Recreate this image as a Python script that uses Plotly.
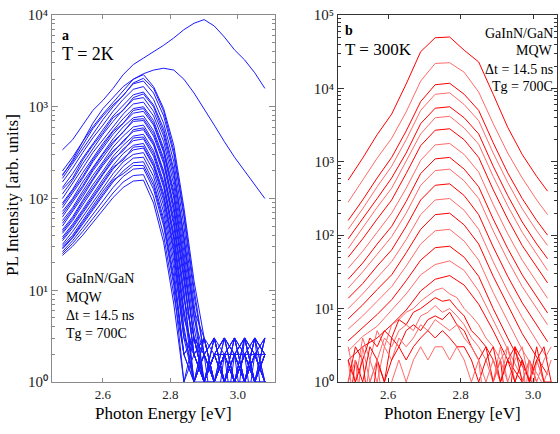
import numpy as np
import plotly.graph_objects as go

W, H = 560, 434

# ---------------- Panel a (T = 2K) : log10(PL intensity) ----------------
a_energy = [2.48, 2.51, 2.54, 2.57, 2.60, 2.63, 2.66, 2.69, 2.72, 2.75, 2.78,
            2.81, 2.84, 2.87, 2.90, 2.93, 2.96, 2.99, 3.02, 3.05, 3.08]

a_top = [2.53, 2.64, 2.80, 2.96, 3.07, 3.20, 3.35, 3.46, 3.53, 3.60, 3.67,
         3.75, 3.84, 3.91, 3.95, 3.88, 3.76, 3.62, 3.51, 3.37, 3.20]
a_second = [2.25, 2.42, 2.62, 2.82, 2.98, 3.10, 3.22, 3.30, 3.36, 3.40, 3.42,
            3.40, 3.30, 3.15, 2.98, 2.80, 2.62, 2.45, 2.30, 2.15, 2.00]

a_b01 = [2.30, 2.45, 2.62, 2.78, 2.92, 3.05, 3.18, 3.30, 3.35, 3.22, 2.98, 2.58, 1.90, 1.10, 0.48, 0.00, 0.30, 0.00, 0.48, 0.00, 0.30]
a_b02 = [2.22, 2.38, 2.55, 2.70, 2.86, 3.00, 3.12, 3.25, 3.28, 3.15, 2.90, 2.48, 1.80, 0.95, 0.30, 0.48, 0.00, 0.30, -0.5, 0.30, 0.00]
a_b03 = [2.18, 2.33, 2.50, 2.66, 2.80, 2.95, 3.08, 3.19, 3.22, 3.08, 2.82, 2.40, 1.70, 0.85, 0.00, 0.30, 0.48, 0.00, 0.30, 0.48, -0.5]
a_b04 = [2.12, 2.27, 2.44, 2.60, 2.75, 2.90, 3.02, 3.13, 3.16, 3.02, 2.76, 2.32, 1.60, 0.78, 0.48, 0.00, 0.30, 0.48, 0.00, 0.30, 0.30]
a_b05 = [2.05, 2.20, 2.38, 2.54, 2.70, 2.84, 2.97, 3.08, 3.10, 2.95, 2.68, 2.22, 1.50, 0.70, 0.30, 0.00, -0.5, 0.30, 0.48, 0.00, 0.48]
a_b06 = [2.00, 2.16, 2.33, 2.50, 2.64, 2.79, 2.92, 3.03, 3.05, 2.90, 2.62, 2.15, 1.42, 0.60, 0.00, 0.48, 0.30, 0.00, 0.30, -0.5, 0.00]
a_b07 = [1.95, 2.10, 2.28, 2.44, 2.60, 2.74, 2.87, 2.98, 3.00, 2.85, 2.55, 2.08, 1.35, 0.48, 0.30, 0.00, 0.48, 0.30, 0.00, 0.30, 0.48]
a_b08 = [1.90, 2.06, 2.22, 2.40, 2.55, 2.70, 2.82, 2.93, 2.95, 2.80, 2.50, 2.00, 1.25, 0.48, 0.00, 0.30, 0.00, 0.48, 0.30, 0.00, 0.30]
a_b09 = [1.86, 2.00, 2.18, 2.34, 2.50, 2.65, 2.78, 2.88, 2.90, 2.74, 2.44, 1.92, 1.18, 0.30, 0.48, 0.00, 0.30, -0.5, 0.48, 0.30, 0.00]
a_b10 = [1.80, 1.96, 2.12, 2.30, 2.45, 2.60, 2.73, 2.84, 2.85, 2.68, 2.38, 1.85, 1.10, 0.30, 0.00, 0.48, 0.00, 0.30, 0.00, 0.48, 0.30]
a_b11 = [1.76, 1.90, 2.08, 2.25, 2.40, 2.56, 2.68, 2.78, 2.80, 2.62, 2.30, 1.78, 1.00, 0.00, 0.30, 0.00, 0.48, 0.30, 0.30, 0.00, -0.5]
a_b12 = [1.70, 1.86, 2.02, 2.20, 2.36, 2.50, 2.63, 2.73, 2.75, 2.58, 2.25, 1.70, 0.90, 0.48, 0.00, 0.30, 0.00, 0.00, 0.48, 0.30, 0.00]
a_b13 = [1.66, 1.80, 1.98, 2.15, 2.30, 2.46, 2.58, 2.68, 2.70, 2.52, 2.18, 1.62, 0.80, 0.00, 0.30, -0.5, 0.30, 0.48, 0.00, 0.30, 0.30]
a_b14 = [1.62, 1.76, 1.93, 2.10, 2.26, 2.41, 2.54, 2.63, 2.65, 2.46, 2.12, 1.55, 0.70, 0.30, 0.48, 0.00, 0.30, 0.00, 0.30, 0.00, 0.48]
a_b15 = [1.58, 1.72, 1.88, 2.05, 2.21, 2.36, 2.49, 2.58, 2.60, 2.40, 2.05, 1.48, 0.60, 0.00, 0.00, 0.30, 0.48, 0.30, 0.00, 0.48, 0.00]
a_b16 = [1.54, 1.68, 1.84, 2.00, 2.16, 2.32, 2.44, 2.53, 2.55, 2.35, 1.98, 1.40, 0.48, 0.30, 0.00, 0.48, 0.00, 0.30, 0.48, 0.00, 0.30]
a_b17 = [1.50, 1.64, 1.80, 1.96, 2.12, 2.27, 2.40, 2.48, 2.50, 2.30, 1.92, 1.32, 0.48, 0.00, 0.30, 0.00, 0.30, 0.00, 0.30, 0.30, 0.00]
a_b18 = [1.48, 1.60, 1.76, 1.92, 2.08, 2.22, 2.35, 2.44, 2.45, 2.24, 1.85, 1.24, 0.30, 0.48, 0.00, 0.30, 0.00, 0.48, 0.00, 0.48, 0.30]
a_b19 = [1.45, 1.57, 1.72, 1.88, 2.03, 2.18, 2.30, 2.39, 2.40, 2.18, 1.78, 1.15, 0.30, 0.00, 0.48, 0.00, 0.30, 0.30, 0.00, 0.00, 0.48]
a_b20 = [1.42, 1.54, 1.68, 1.83, 1.98, 2.12, 2.24, 2.32, 2.33, 2.10, 1.70, 1.05, 0.00, 0.30, 0.00, 0.30, 0.48, 0.00, 0.30, 0.00, 0.30]
a_b21 = [1.40, 1.51, 1.64, 1.78, 1.92, 2.06, 2.18, 2.25, 2.26, 2.02, 1.60, 0.95, 0.30, 0.00, 0.30, 0.00, 0.00, 0.30, 0.48, 0.30, 0.00]
a_b22 = [1.38, 1.48, 1.60, 1.74, 1.88, 2.01, 2.12, 2.19, 2.20, 1.95, 1.52, 0.85, 0.00, 0.48, 0.00, 0.30, 0.30, 0.00, 0.00, 0.48, 0.30]
a_b23 = [2.26, 2.40, 2.58, 2.76, 2.90, 3.02, 3.12, 3.26, 3.31, 3.20, 2.95, 2.52, 1.84, 1.02, 0.30, 0.48, 0.00, 0.48, 0.30, 0.00, 0.00]
a_b24 = [2.10, 2.22, 2.42, 2.58, 2.72, 2.88, 2.96, 3.10, 3.14, 3.00, 2.72, 2.28, 1.56, 0.74, 0.00, 0.30, 0.30, 0.00, 0.48, 0.00, 0.30]
a_b25 = [1.93, 2.08, 2.24, 2.42, 2.58, 2.73, 2.82, 2.96, 2.98, 2.82, 2.52, 2.04, 1.30, 0.48, 0.30, 0.00, 0.30, 0.30, 0.00, 0.48, 0.00]
a_b26 = [1.83, 1.98, 2.14, 2.32, 2.48, 2.62, 2.72, 2.86, 2.87, 2.71, 2.41, 1.90, 1.14, 0.30, 0.00, 0.30, 0.48, 0.00, 0.00, 0.30, 0.48]
a_b27 = [1.73, 1.88, 2.05, 2.22, 2.38, 2.52, 2.61, 2.75, 2.77, 2.60, 2.28, 1.74, 0.95, 0.00, 0.48, 0.30, 0.00, 0.30, 0.30, 0.00, 0.30]
a_b28 = [1.64, 1.78, 1.96, 2.12, 2.28, 2.43, 2.52, 2.66, 2.67, 2.49, 2.15, 1.58, 0.75, 0.30, 0.00, 0.00, 0.30, 0.48, 0.00, 0.30, 0.00]
a_b29 = [1.56, 1.70, 1.86, 2.02, 2.18, 2.34, 2.42, 2.56, 2.57, 2.37, 2.02, 1.44, 0.55, 0.00, 0.30, 0.48, 0.00, 0.00, 0.30, 0.48, 0.30]
a_b30 = [1.46, 1.58, 1.74, 1.90, 2.05, 2.20, 2.27, 2.36, 2.36, 2.14, 1.74, 1.10, 0.30, 0.48, 0.00, 0.00, 0.30, 0.30, 0.48, 0.00, 0.00]

a_curves = [a_top, a_second, a_b01, a_b02, a_b03, a_b04, a_b05, a_b06, a_b07,
            a_b08, a_b09, a_b10, a_b11, a_b12, a_b13, a_b14, a_b15, a_b16,
            a_b17, a_b18, a_b19, a_b20, a_b21, a_b22, a_b23, a_b24, a_b25,
            a_b26, a_b27, a_b28, a_b29, a_b30]

# ---------------- Panel b (T = 300K) : log10(PL intensity) ----------------
b_energy = [2.49, 2.53, 2.57, 2.61, 2.65, 2.69, 2.73, 2.77, 2.81, 2.85, 2.89,
            2.93, 2.97, 3.01, 3.04]

b_c01 = [2.75, 3.05, 3.37, 3.65, 4.06, 4.50, 4.69, 4.70, 4.52, 4.36, 3.92, 3.47, 3.10, 2.80, 2.60]
b_c02 = [2.45, 2.75, 3.05, 3.32, 3.68, 4.10, 4.34, 4.35, 4.22, 3.95, 3.52, 3.12, 2.78, 2.48, 2.28]
b_c03 = [2.20, 2.48, 2.78, 3.06, 3.42, 3.82, 4.05, 4.07, 3.92, 3.70, 3.26, 2.85, 2.50, 2.20, 2.00]
b_c04 = [2.08, 2.36, 2.66, 2.94, 3.30, 3.70, 3.92, 3.94, 3.78, 3.56, 3.12, 2.72, 2.36, 2.06, 1.86]
b_c05 = [1.95, 2.22, 2.50, 2.78, 3.12, 3.52, 3.73, 3.75, 3.60, 3.38, 2.94, 2.54, 2.18, 1.88, 1.68]
b_c06 = [1.82, 2.10, 2.38, 2.64, 3.00, 3.38, 3.60, 3.62, 3.46, 3.24, 2.80, 2.40, 2.04, 1.74, 1.52]
b_c07 = [1.70, 1.95, 2.22, 2.48, 2.84, 3.22, 3.43, 3.45, 3.30, 3.06, 2.62, 2.22, 1.86, 1.56, 1.35]
b_c08 = [1.55, 1.78, 2.04, 2.30, 2.64, 3.02, 3.23, 3.25, 3.10, 2.86, 2.42, 2.02, 1.66, 1.36, 1.14]
b_c09 = [1.40, 1.62, 1.88, 2.12, 2.46, 2.84, 3.04, 3.06, 2.90, 2.66, 2.22, 1.82, 1.46, 1.16, 0.94]
b_c10 = [1.28, 1.50, 1.74, 1.98, 2.30, 2.68, 2.88, 2.90, 2.74, 2.50, 2.06, 1.66, 1.30, 1.00, 0.78]
b_c11 = [1.14, 1.34, 1.58, 1.80, 2.12, 2.48, 2.68, 2.70, 2.54, 2.28, 1.84, 1.44, 1.08, 0.78, 0.55]
b_c12 = [1.00, 1.20, 1.42, 1.64, 1.94, 2.28, 2.48, 2.50, 2.34, 2.08, 1.64, 1.24, 0.88, 0.56, 0.32]
b_c13 = [0.86, 1.05, 1.26, 1.46, 1.76, 2.08, 2.28, 2.30, 2.14, 1.88, 1.44, 1.04, 0.66, 0.34, 0.10]
b_c14 = [0.72, 0.90, 1.10, 1.30, 1.58, 1.88, 2.06, 2.08, 1.92, 1.66, 1.22, 0.82, 0.44, 0.12, -0.15]
b_c15 = [0.56, 0.74, 0.92, 1.12, 1.38, 1.66, 1.83, 1.85, 1.70, 1.44, 1.00, 0.60, 0.22, -0.12, -0.35]
b_c16 = [0.42, 0.62, 0.76, 0.98, 1.20, 1.46, 1.60, 1.65, 1.52, 1.24, 0.84, 0.44, 0.05, -0.30, -0.40]
b_c17 = [0.30, 0.48, 0.60, 0.78, 0.98, 1.24, 1.40, 1.45, 1.32, 1.06, 0.70, 0.30, 0.00, -0.50, -0.50]

b_curves = [b_c01, b_c02, b_c03, b_c04, b_c05, b_c06, b_c07, b_c08, b_c09,
            b_c10, b_c11, b_c12, b_c13, b_c14, b_c15, b_c16, b_c17]

b_noise_energy = [2.49, 2.51, 2.53, 2.55, 2.57, 2.59, 2.61, 2.63, 2.65, 2.67,
                  2.69, 2.71, 2.73, 2.75, 2.77, 2.79, 2.81, 2.83, 2.85, 2.87,
                  2.89, 2.91, 2.93, 2.95, 2.97, 2.99, 3.01, 3.03, 3.05]
b_n1 = [0.48, 0.00, 0.60, 0.30, 0.70, 0.48, 0.78, 0.85, 0.95, 1.00, 1.10, 1.18, 1.25, 1.28, 1.20, 1.15, 1.00, 0.90, 0.78, 0.60, 0.48, 0.30, 0.48, 0.00, 0.30, -0.5, 0.30, 0.00, 0.30]
b_n2 = [0.00, 0.48, 0.30, 0.60, 0.48, 0.70, 0.60, 0.85, 0.78, 0.95, 1.00, 1.08, 1.15, 1.10, 1.12, 1.00, 0.90, 0.70, 0.60, 0.48, 0.30, 0.00, 0.30, 0.48, 0.00, 0.30, 0.00, -0.5, 0.00]
b_n3 = [0.30, -0.5, 0.48, 0.00, 0.30, 0.60, 0.48, 0.70, 0.78, 0.70, 0.90, 0.95, 1.04, 0.95, 1.00, 0.90, 0.78, 0.60, 0.48, 0.30, 0.00, 0.48, 0.00, 0.30, 0.48, 0.00, 0.30, 0.00, -0.5]
b_n4 = [-0.5, 0.30, 0.00, 0.48, 0.30, 0.00, 0.60, 0.48, 0.70, 0.78, 0.70, 0.85, 0.90, 0.85, 0.95, 0.78, 0.70, 0.48, 0.30, 0.48, 0.00, 0.30, -0.5, 0.48, 0.30, 0.00, 0.30, 0.48, 0.00]
b_n5 = [0.00, 0.30, -0.5, 0.30, 0.00, 0.48, 0.30, 0.60, 0.48, 0.60, 0.78, 0.70, 0.85, 0.78, 0.70, 0.78, 0.60, 0.48, 0.30, 0.00, 0.30, 0.00, 0.48, 0.00, -0.5, 0.30, 0.00, 0.30, 0.48]
b_n6 = [0.30, 0.00, 0.30, -0.5, 0.30, 0.00, 0.30, 0.48, 0.30, 0.48, 0.60, 0.70, 0.60, 0.70, 0.60, 0.48, 0.48, 0.30, 0.00, 0.30, 0.48, 0.00, 0.30, 0.00, 0.30, 0.00, 0.48, 0.00, 0.00]
b_n7 = [-0.5, 0.00, -0.5, 0.00, 0.30, -0.5, 0.00, 0.30, 0.00, 0.30, 0.48, 0.30, 0.48, 0.48, 0.30, 0.48, 0.30, 0.00, 0.30, -0.5, 0.00, 0.30, 0.00, -0.5, 0.00, 0.30, -0.5, 0.00, -0.5]
b_noise = [b_n1, b_n2, b_n3, b_n4, b_n5, b_n6, b_n7]

x_ticks = [2.6, 2.8, 3.0]
x_tick_text = ["2.6", "2.8", "3.0"]
a_exponents = [0, 1, 2, 3, 4]
b_exponents = [0, 1, 2, 3, 4, 5]

SERIF = "Liberation Serif"
BLUE = "#1a1aff"
REDS = ["#ff0000", "#ff6a6a"]
SUPERSCRIPT = str.maketrans("0123456789", "⁰¹²³⁴⁵⁶⁷⁸⁹")

fig = go.Figure()
for L in a_curves:
    fig.add_trace(go.Scatter(x=a_energy, y=np.power(10.0, L), mode="lines",
                             line=dict(color=BLUE, width=1), xaxis="x", yaxis="y",
                             showlegend=False, hoverinfo="skip"))
for i, L in enumerate(b_curves):
    fig.add_trace(go.Scatter(x=b_energy, y=np.power(10.0, L), mode="lines",
                             line=dict(color=REDS[i % 2], width=1), xaxis="x2", yaxis="y2",
                             showlegend=False, hoverinfo="skip"))
for i, L in enumerate(b_noise):
    fig.add_trace(go.Scatter(x=b_noise_energy, y=np.power(10.0, L), mode="lines",
                             line=dict(color=REDS[(i + 1) % 2], width=1), xaxis="x2", yaxis="y2",
                             showlegend=False, hoverinfo="skip"))


def px_x(p):
    return p / W


def px_y(p):
    return 1 - p / H


def sup(n):
    return "10" + str(n).translate(SUPERSCRIPT)


def minor_vals(exps):
    return [k * 10.0 ** e for e in exps[:-1] for k in range(2, 10)]


def yaxis_cfg(exps, color):
    return dict(type="log", range=[exps[0], exps[-1]], domain=[px_y(382), px_y(15)],
                tickvals=[10.0 ** e for e in exps], ticktext=[sup(e) for e in exps],
                ticks="inside", ticklen=6, tickcolor=color, showline=True,
                linecolor=color, linewidth=1, mirror="allticks", showgrid=False,
                zeroline=False, automargin=False,
                tickfont=dict(family=SERIF, size=15, color="#222"),
                minor=dict(tickvals=minor_vals(exps), ticks="inside", ticklen=3,
                           tickcolor=color, showgrid=False))


def xaxis_cfg(rng, dom, color):
    return dict(range=rng, domain=dom, tickvals=x_ticks, ticktext=x_tick_text,
                ticks="inside", ticklen=4, tickcolor=color, showline=True,
                linecolor=color, linewidth=1, mirror="allticks", showgrid=False,
                zeroline=False, automargin=False,
                tickfont=dict(family=SERIF, size=13, color="#222"))


LEFT_C = "#8a8a8a"
RIGHT_C = "#333333"
fig.update_layout(
    width=W, height=H, margin=dict(l=0, r=0, t=0, b=0, autoexpand=False),
    paper_bgcolor="white", plot_bgcolor="white",
    xaxis=dict(**xaxis_cfg([2.449, 3.11], [px_x(52), px_x(275)], LEFT_C), anchor="y"),
    yaxis=dict(**yaxis_cfg(a_exponents, LEFT_C), anchor="x"),
    xaxis2=dict(**xaxis_cfg([2.462, 3.066], [px_x(338), px_x(557)], RIGHT_C), anchor="y2"),
    yaxis2=dict(**yaxis_cfg(b_exponents, RIGHT_C), anchor="x2"),
)


def note(text, x, y, size, xanchor="left", bold=False, angle=0):
    if bold:
        text = "<b>%s</b>" % text
    fig.add_annotation(text=text, x=px_x(x), y=px_y(y), xref="paper", yref="paper",
                       xanchor=xanchor, yanchor="middle", showarrow=False, textangle=angle,
                       font=dict(family=SERIF, size=size, color="black"))


note("a", 60, 36, 14, bold=True)
note("T = 2K", 60, 54, 18)
for txt, yy in [("GaInN/GaN", 278), ("MQW", 297), ("Δt = 14.5 ns", 315), ("Tg = 700C", 333)]:
    note(txt, 64, yy, 14)

note("b", 343, 31, 14, bold=True)
note("T = 300K", 343, 49, 17)
for txt, yy in [("GaInN/GaN", 33), ("MQW", 51), ("Δt = 14.5 ns", 69), ("Tg = 700C", 86)]:
    note(txt, 555, yy, 14, xanchor="right")

note("PL Intensity [arb. units]", 12, 195, 17, xanchor="center", angle=-90)
note("Photon Energy [eV]", 163, 413, 17, xanchor="center")
note("Photon Energy [eV]", 452, 413, 17, xanchor="center")

fig.write_html("out.html", config={"displayModeBar": False},
               post_script="document.body.style.margin='0';document.body.style.overflow='hidden';")
